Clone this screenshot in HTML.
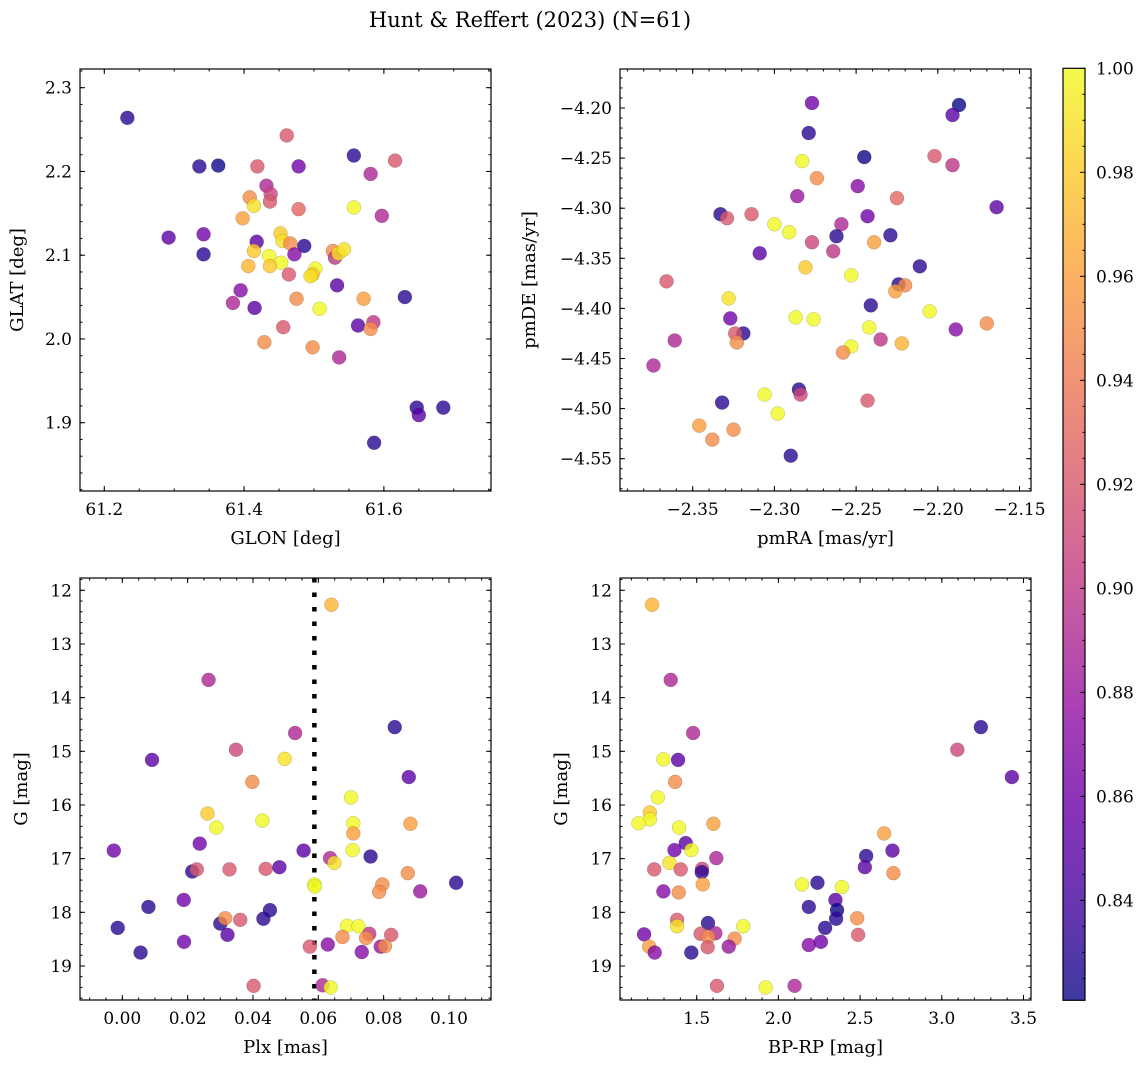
<!DOCTYPE html>
<html><head><meta charset="utf-8">
<style>
html,body{margin:0;padding:0;background:#fff;}
svg{display:block;font-family:"DejaVu Serif","Liberation Serif",serif;}
</style></head>
<body>
<svg id="fig" width="1148" height="1068" viewBox="0 0 1148 1068" xmlns="http://www.w3.org/2000/svg">
<defs>
<linearGradient id="cbgrad" x1="0" y1="1" x2="0" y2="0">
<stop offset="0" stop-color="#0d0887"/><stop offset="0.1" stop-color="#41049d"/><stop offset="0.2" stop-color="#6a00a8"/><stop offset="0.3" stop-color="#8f0da4"/><stop offset="0.4" stop-color="#b12a90"/><stop offset="0.5" stop-color="#cc4778"/><stop offset="0.6" stop-color="#e16462"/><stop offset="0.7" stop-color="#f2844b"/><stop offset="0.8" stop-color="#fca636"/><stop offset="0.9" stop-color="#fcce25"/><stop offset="1" stop-color="#f0f921"/>
</linearGradient>
</defs>
<text x="530" y="27" font-size="21" text-anchor="middle">Hunt &amp; Reffert (2023) (N=61)</text>
<g id="root"></g>
</svg>
<script>
// ---- Panel 1: GLON / GLAT ----
const glon=[61.233,61.461,61.557,61.616,61.336,61.363,61.419,61.478,61.581,61.432,61.438,61.437,61.408,61.414,61.478,61.557,61.597,61.398,61.292,61.342,61.342,61.418,61.452,61.455,61.466,61.486,61.472,61.414,61.436,61.453,61.437,61.406,61.527,61.530,61.535,61.543,61.464,61.502,61.498,61.495,61.533,61.395,61.630,61.475,61.571,61.384,61.415,61.508,61.563,61.585,61.581,61.456,61.429,61.498,61.536,61.647,61.650,61.685,61.586];
const glat=[2.264,2.243,2.219,2.213,2.206,2.207,2.206,2.206,2.197,2.183,2.173,2.164,2.169,2.159,2.155,2.157,2.147,2.144,2.121,2.125,2.101,2.116,2.126,2.117,2.114,2.111,2.101,2.105,2.099,2.091,2.087,2.087,2.105,2.097,2.102,2.107,2.077,2.084,2.077,2.075,2.064,2.058,2.050,2.048,2.048,2.043,2.037,2.036,2.016,2.020,2.012,2.014,1.996,1.990,1.978,1.918,1.909,1.918,1.876];
const prob1=[.83,.92,.83,.92,.83,.82,.92,.86,.89,.89,.91,.92,.95,.99,.93,1.0,.89,.96,.85,.86,.83,.85,.98,.99,.95,.83,.87,.98,1.0,1.0,.98,.97,.95,.90,.99,.99,.92,1.0,.98,.99,.85,.87,.83,.95,.96,.89,.85,1.0,.85,.90,.95,.92,.95,.95,.89,.83,.85,.83,.83];
// ---- Panel 2: pmRA / pmDE ----
const pmra=[-2.277,-2.187,-2.191,-2.279,-2.245,-2.202,-2.191,-2.283,-2.274,-2.249,-2.286,-2.225,-2.164,-2.333,-2.329,-2.314,-2.243,-2.300,-2.291,-2.259,-2.262,-2.229,-2.277,-2.239,-2.264,-2.309,-2.281,-2.253,-2.211,-2.366,-2.224,-2.220,-2.226,-2.328,-2.241,-2.205,-2.327,-2.287,-2.276,-2.170,-2.189,-2.242,-2.319,-2.324,-2.323,-2.361,-2.235,-2.222,-2.253,-2.258,-2.374,-2.285,-2.284,-2.306,-2.332,-2.243,-2.298,-2.346,-2.325,-2.338,-2.290];
const pmde=[-4.195,-4.197,-4.207,-4.225,-4.249,-4.248,-4.257,-4.253,-4.270,-4.278,-4.288,-4.290,-4.299,-4.306,-4.310,-4.306,-4.308,-4.316,-4.324,-4.316,-4.328,-4.327,-4.334,-4.334,-4.343,-4.345,-4.359,-4.367,-4.358,-4.373,-4.376,-4.377,-4.383,-4.390,-4.397,-4.403,-4.410,-4.409,-4.411,-4.415,-4.421,-4.419,-4.425,-4.425,-4.434,-4.432,-4.431,-4.435,-4.438,-4.444,-4.457,-4.481,-4.486,-4.486,-4.494,-4.492,-4.505,-4.517,-4.521,-4.531,-4.547];
const prob2=[.86,.82,.85,.83,.82,.92,.90,1.0,.95,.87,.88,.93,.85,.83,.92,.92,.86,1.0,1.0,.89,.83,.83,.91,.96,.90,.85,.98,1.0,.83,.92,.83,.95,.96,.99,.83,1.0,.86,1.0,1.0,.95,.87,1.0,.83,.92,.95,.89,.90,.97,1.0,.95,.89,.83,.91,1.0,.83,.92,1.0,.96,.95,.95,.83];
// ---- Panel 3: Plx / G ----
const plx=[0.0640,0.0264,0.0529,0.0834,0.0348,0.0091,0.0497,0.0877,0.0398,0.0700,0.0261,0.0288,0.0429,0.0707,0.0882,0.0707,-0.0026,0.0237,0.0555,0.0705,0.0636,0.0649,0.0760,0.0214,0.0228,0.0328,0.0439,0.0481,0.0874,0.1022,0.0588,0.0589,0.0796,0.0786,0.0912,0.0188,0.0080,0.0452,0.0432,0.0300,0.0315,0.0361,0.0322,-0.0014,0.0688,0.0723,0.0756,0.0746,0.0823,0.0674,0.0189,0.0574,0.0629,0.0791,0.0804,0.0733,0.0056,0.0402,0.0613,0.0638];
const gmag3=[12.27,13.67,14.66,14.55,14.97,15.16,15.14,15.48,15.57,15.86,16.16,16.42,16.29,16.34,16.35,16.53,16.85,16.72,16.85,16.84,16.99,17.08,16.96,17.24,17.20,17.20,17.19,17.16,17.27,17.45,17.48,17.52,17.48,17.62,17.61,17.77,17.90,17.96,18.12,18.21,18.11,18.14,18.42,18.29,18.25,18.26,18.40,18.48,18.42,18.46,18.55,18.64,18.60,18.64,18.63,18.74,18.75,19.37,19.36,19.40];
const prob3=[.97,.89,.89,.83,.91,.85,.99,.85,.95,1.0,.98,1.0,1.0,1.0,.96,.96,.86,.86,.85,1.0,.89,.99,.83,.83,.92,.92,.92,.85,.95,.83,1.0,1.0,.95,.95,.88,.86,.83,.83,.83,.83,.95,.92,.85,.83,1.0,1.0,.90,.95,.92,.95,.86,.92,.87,.88,.95,.87,.83,.92,.89,1.0];
const plxCut=[0.0588];
// ---- Panel 4: BP-RP / G ----
const bprp=[1.227,1.341,1.478,3.239,3.095,1.296,1.386,3.429,1.368,1.262,1.213,1.213,1.144,1.602,1.392,2.647,1.433,1.364,1.467,1.620,2.537,2.698,2.529,1.333,1.240,1.402,1.533,1.531,2.704,2.239,2.144,1.537,2.388,1.296,1.390,2.349,2.186,2.359,2.353,2.482,1.380,1.380,1.569,1.785,2.286,1.178,1.524,1.614,1.571,2.488,1.732,1.209,1.567,1.696,2.186,2.260,1.243,1.467,1.624,1.922,2.099];
const gmag4=[12.27,13.67,14.66,14.55,14.97,15.15,15.16,15.48,15.57,15.86,16.14,16.27,16.34,16.35,16.42,16.53,16.71,16.84,16.84,16.99,16.95,16.85,17.16,17.08,17.20,17.20,17.19,17.25,17.27,17.45,17.48,17.48,17.53,17.61,17.63,17.77,17.90,17.96,18.12,18.11,18.14,18.26,18.20,18.26,18.29,18.41,18.40,18.39,18.46,18.42,18.49,18.64,18.65,18.64,18.61,18.55,18.75,18.75,19.37,19.40,19.37];
const prob4=[.97,.89,.89,.83,.91,1.0,.85,.85,.95,1.0,.98,1.0,1.0,.96,1.0,.96,.85,.86,1.0,.89,.83,.85,.85,.99,.92,.92,.91,.83,.95,.83,1.0,.96,1.0,.87,.95,.85,.83,.82,.83,.95,.92,.99,.83,1.0,.83,.86,.92,.89,.95,.92,.95,.96,.92,.88,.87,.86,.87,.83,.92,1.0,.89];
// ---- Colorbar ----
const cbTicks=[0.84,0.86,0.88,0.90,0.92,0.94,0.96,0.98,1.00];
const cbMin=0.8208, cbMax=1.0;

const NS="http://www.w3.org/2000/svg";
const root=document.getElementById('root');
function el(tag,attrs,parent){const e=document.createElementNS(NS,tag);for(const k in attrs)e.setAttribute(k,attrs[k]);(parent||root).appendChild(e);return e;}
const stops=[[13,8,135],[65,4,157],[106,0,168],[143,13,164],[177,42,144],[204,71,120],[225,100,98],[242,132,75],[252,166,54],[252,206,37],[240,249,33]];
function plasma(p){let t=(p-cbMin)/(cbMax-cbMin);t=Math.max(0,Math.min(1,t));const f=t*10;const i=Math.min(9,Math.floor(f));const r=f-i;const a=stops[i],b=stops[i+1];return 'rgb('+[0,1,2].map(k=>Math.round(a[k]+(b[k]-a[k])*r)).join(',')+')';}
function lin(v0,p0,slope){return v=>p0+(v-v0)*slope;}
function fmt(v,d){const s=Math.abs(v).toFixed(d);return (v<-1e-9?'\u2212':'')+s;}

function panel(cfg){
  const g=el('g',{});
  
  
  const {L,T,R,B,sx,sy}=cfg;
  const ticks=el('g',{stroke:'#000','stroke-width':1},g);
  
  
  function ticksX(step,len){const s=Math.ceil((cfg.xlo)/step-1e-6);for(let k=s;k*step<=cfg.xhi+1e-9;k++){const x=sx(k*step);if(x<L-0.5||x>R+0.5)continue;el('line',{x1:x,x2:x,y1:B,y2:B-len},ticks);el('line',{x1:x,x2:x,y1:T,y2:T+len},ticks);}}
  function ticksY(step,len){const s=Math.ceil((cfg.ylo)/step-1e-6);for(let k=s;k*step<=cfg.yhi+1e-9;k++){const y=sy(k*step);if(y<T-0.5||y>B+0.5)continue;el('line',{x1:L,x2:L+len,y1:y,y2:y},ticks);el('line',{x1:R,x2:R-len,y1:y,y2:y},ticks);}}
  ticksX(cfg.xminor,2.5);ticksX(cfg.xmajor,5);
  ticksY(cfg.yminor,2.5);ticksY(cfg.ymajor,5);
  cfg.xlabels.forEach(v=>{const t=el('text',{x:sx(v),y:B+24,'font-size':17,'text-anchor':'middle'},g);t.textContent=fmt(v,cfg.xd);});
  cfg.ylabels.forEach(v=>{const t=el('text',{x:L-8,y:sy(v)+6,'font-size':17,'text-anchor':'end'},g);t.textContent=fmt(v,cfg.yd);});
  const xt=el('text',{x:(L+R)/2,y:B+53,'font-size':18,'text-anchor':'middle'},g);xt.textContent=cfg.xtitle;
  
  
  const yt=el('text',{x:cfg.ytx,y:(T+B)/2,'font-size':18,'text-anchor':'middle',transform:'rotate(-90 '+cfg.ytx+' '+(T+B)/2+')'},g);yt.textContent=cfg.ytitle;
  
  
  if(cfg.vline){cfg.vline.forEach(v=>{const ln=el('line',{x1:sx(v),x2:sx(v),y1:T,y2:B,stroke:'#000','stroke-width':4.5,'stroke-dasharray':'4.5 10'},g);});}
  const pts=el('g',{},g);
  
  
  cfg.xs.forEach((xv,i)=>{const c=el('circle',{cx:sx(xv),cy:sy(cfg.ys[i]),r:7,fill:plasma(cfg.ps[i]),'fill-opacity':0.8,stroke:'rgba(0,0,0,0.25)','stroke-width':0.5},pts);
    
    });
  const fr=el('rect',{x:L,y:T,width:R-L,height:B-T,fill:'none',stroke:'#000','stroke-width':1.2},g);
  
  
}

const gs=lin(12,590.3,53.67);
panel({name:'glon-glat-panel',L:80,T:69,R:491,B:491,sx:lin(61.2,104.3,699),sy:lin(2.3,87.7,-837.5),xlo:61.16,xhi:61.76,ylo:1.81,yhi:2.33,xminor:0.05,xmajor:0.2,yminor:0.02,ymajor:0.1,xlabels:[61.2,61.4,61.6],xd:1,ylabels:[1.9,2.0,2.1,2.2,2.3],yd:1,xtitle:'GLON [deg]',ytitle:'GLAT [deg]',ytx:23,xs:glon,ys:glat,ps:prob1});
panel({name:'pm-panel',L:620,T:69,R:1031,B:491,sx:lin(-2.35,692.7,1634),sy:lin(-4.2,108,-1002),xlo:-2.40,xhi:-2.14,ylo:-4.59,yhi:-4.16,xminor:0.01,xmajor:0.05,yminor:0.01,ymajor:0.05,xlabels:[-2.35,-2.30,-2.25,-2.20,-2.15],xd:2,ylabels:[-4.55,-4.50,-4.45,-4.40,-4.35,-4.30,-4.25,-4.20],yd:2,xtitle:'pmRA [mas/yr]',ytitle:'pmDE [mas/yr]',ytx:535,xs:pmra,ys:pmde,ps:prob2});
panel({name:'plx-g-panel',L:80,T:578,R:491,B:1000,sx:lin(0,122.3,3266.7),sy:gs,xlo:-0.02,xhi:0.12,ylo:11.7,yhi:19.7,xminor:0.005,xmajor:0.02,yminor:0.2,ymajor:1,xlabels:[0,0.02,0.04,0.06,0.08,0.10],xd:2,ylabels:[12,13,14,15,16,17,18,19],yd:0,xtitle:'Plx [mas]',ytitle:'G [mag]',ytx:27,xs:plx,ys:gmag3,ps:prob3,vline:plxCut});
panel({name:'cmd-panel',L:620,T:578,R:1031,B:1000,sx:lin(1.5,696.7,163.4),sy:gs,xlo:1.0,xhi:3.6,ylo:11.7,yhi:19.7,xminor:0.1,xmajor:0.5,yminor:0.2,ymajor:1,xlabels:[1.5,2.0,2.5,3.0,3.5],xd:1,ylabels:[12,13,14,15,16,17,18,19],yd:0,xtitle:'BP-RP [mag]',ytitle:'G [mag]',ytx:567,xs:bprp,ys:gmag4,ps:prob4});

(function(){
  const L=1063,R=1085,T=68.3,B=1000.3;
  const cy=v=>B-(v-cbMin)/(cbMax-cbMin)*(B-T);
  const g=el('g',{});
  
  
  el('rect',{x:L,y:T,width:R-L,height:B-T,fill:'url(#cbgrad)','fill-opacity':0.8},g);
  for(let v=0.825;v<=1.0001;v+=0.005){const y=cy(v);const major=Math.abs(v*50-Math.round(v*50))<1e-6;el('line',{x1:R,x2:R-(major?5:2.5),y1:y,y2:y,stroke:'#000','stroke-width':1},g);}
  cbTicks.forEach(v=>{const t=el('text',{x:R+11,y:cy(v)+6,'font-size':17},g);t.textContent=v.toFixed(2);});
  el('rect',{x:L,y:T,width:R-L,height:B-T,fill:'none',stroke:'#000','stroke-width':1.2},g);
})();
</script>
</body></html>
